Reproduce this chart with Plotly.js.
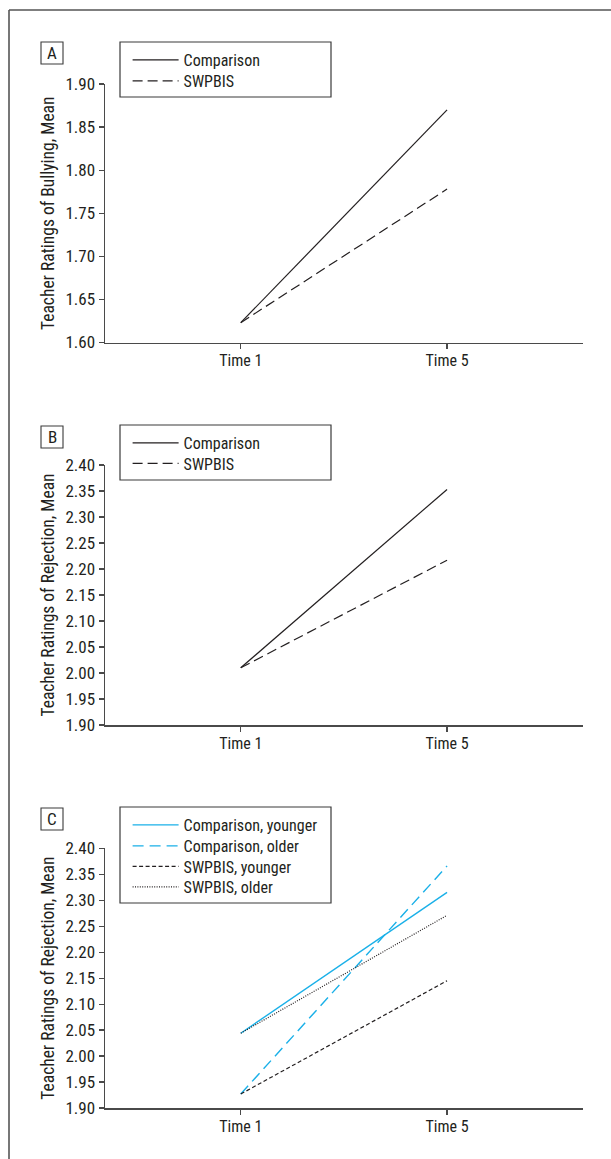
<!DOCTYPE html>
<html>
<head>
<meta charset="utf-8">
<script src="https://cdn.plot.ly/plotly-3.0.1.min.js"></script>
<style>html,body{margin:0;padding:0;background:#fff;}#chart{width:611px;height:1159px;}</style>
</head>
<body>
<div id="chart"></div>
<script>
// ---- data ----
var timepoints = ["Time 1", "Time 5"];
var bullyingComparison = [1.623, 1.870];
var bullyingSWPBIS = [1.623, 1.778];
var rejectionComparison = [2.010, 2.353];
var rejectionSWPBIS = [2.010, 2.217];
var rejCompYounger = [2.044, 2.315];
var rejCompOlder = [1.927, 2.366];
var rejSWPBISYounger = [1.927, 2.145];
var rejSWPBISOlder = [2.044, 2.271];
var panelLabels = ["A", "B", "C"];
var yTitles = ["Teacher Ratings of Bullying, Mean", "Teacher Ratings of Rejection, Mean", "Teacher Ratings of Rejection, Mean"];

// ---- layout helpers ----
var W = 611, H = 1159;
var ML = 105, MR = 28, MT = 84, MB = 51;
var PW = W - ML - MR, PH = H - MT - MB;
function px2x(px) { return (px - ML) / PW; }
function py2y(py) { return (H - MB - py) / PH; }

var FONT = '"Liberation Sans Narrow", "Arial Narrow", "Roboto Condensed", "Liberation Sans", sans-serif';
var INK = '#231f20';
var AXC = '#4a4a4a';
var BLUE = '#1ab0e8';

function trace(y, name, color, dash, xa, ya, leg, width) {
  return {
    type: 'scatter', mode: 'lines', x: timepoints, y: y, name: name,
    xaxis: xa, yaxis: ya, legend: leg,
    line: { color: color, dash: dash, width: width || 1.2 },
    hoverinfo: 'skip'
  };
}

var data = [
  trace(bullyingComparison, 'Comparison', INK, 'solid', 'x', 'y', 'legend'),
  trace(bullyingSWPBIS, 'SWPBIS', INK, '10px,5px', 'x', 'y', 'legend2'),
  trace(rejectionComparison, 'Comparison', INK, 'solid', 'x2', 'y2', 'legend3'),
  trace(rejectionSWPBIS, 'SWPBIS', INK, '10px,5px', 'x2', 'y2', 'legend4'),
  trace(rejCompYounger, 'Comparison, younger', BLUE, 'solid', 'x3', 'y3', 'legend5', 1.4),
  trace(rejCompOlder, 'Comparison, older', BLUE, '11px,6px', 'x3', 'y3', 'legend6', 1.4),
  trace(rejSWPBISYounger, 'SWPBIS, younger', INK, '4px,2.5px', 'x3', 'y3', 'legend7', 1.2),
  trace(rejSWPBISOlder, 'SWPBIS, older', INK, '1px,1.4px', 'x3', 'y3', 'legend8', 1.2)
];

function xax(anchor) {
  return {
    anchor: anchor, domain: [0, 1], type: 'category',
    range: [-0.658, 1.659], showline: true, linecolor: AXC, linewidth: 1.5,
    ticks: 'outside', ticklen: 5, tickwidth: 1.2, tickcolor: AXC,
    showgrid: false, zeroline: false, fixedrange: true,
    ticklabelstandoff: -2,
    tickfont: { family: FONT, size: 16, color: INK }
  };
}
function yax(anchor, dom, range, title) {
  return {
    anchor: anchor, domain: dom, range: range, dtick: 0.05, tick0: 0,
    tickformat: '.2f', showline: true, linecolor: AXC, linewidth: 1.5,
    ticks: 'outside', ticklen: 5, tickwidth: 1.2, tickcolor: AXC,
    showgrid: false, zeroline: false, fixedrange: true,
    tickfont: { family: FONT, size: 17, color: INK },
    title: { text: title, font: { family: FONT, size: 17.5, color: INK }, standoff: 6 }
  };
}

function legendAt(leftPx, rowCenterPx) {
  return {
    xref: 'paper', yref: 'paper',
    x: px2x(leftPx), y: py2y(rowCenterPx - 17), xanchor: 'left', yanchor: 'top',
    bgcolor: 'rgba(0,0,0,0)', borderwidth: 0,
    itemwidth: 46, tracegroupgap: 0, itemclick: false, itemdoubleclick: false,
    font: { family: FONT, size: 16, color: INK }
  };
}

var shapes = [];
// outer frame (top and left edges)
shapes.push({ type: 'line', xref: 'paper', yref: 'paper', x0: px2x(9), x1: px2x(615), y0: py2y(10), y1: py2y(10), line: { color: '#555', width: 1.6 } });
shapes.push({ type: 'line', xref: 'paper', yref: 'paper', x0: px2x(9), x1: px2x(9), y0: py2y(10), y1: py2y(1165), line: { color: '#555', width: 1.6 } });
// legend boxes
[[42, 97], [425, 480], [807, 903]].forEach(function (b) {
  shapes.push({ type: 'rect', xref: 'paper', yref: 'paper', x0: px2x(120), x1: px2x(331), y0: py2y(b[0]), y1: py2y(b[1]), line: { color: '#3a3a3a', width: 1.2 }, fillcolor: 'rgba(0,0,0,0)' });
});
// panel label boxes
var labelCenters = [53, 437, 819];
labelCenters.forEach(function (cy) {
  shapes.push({ type: 'rect', xref: 'paper', yref: 'paper', x0: px2x(41), x1: px2x(63), y0: py2y(cy - 11), y1: py2y(cy + 11), line: { color: '#3a3a3a', width: 1.1 }, fillcolor: 'rgba(0,0,0,0)' });
});
var annotations = panelLabels.map(function (t, i) {
  return { text: t, xref: 'paper', yref: 'paper', x: px2x(52), y: py2y(labelCenters[i]), xanchor: 'center', yanchor: 'middle', showarrow: false, font: { family: FONT, size: 17, color: INK } };
});

// legend rows: one legend per entry so each row sits where the reference has it
var legendRows = [60, 81, 443, 463.5, 825, 846, 866.5, 887];

var layout = {
  width: W, height: H, autosize: false,
  margin: { l: ML, r: MR, t: MT, b: MB, pad: 0, autoexpand: false },
  paper_bgcolor: '#fff', plot_bgcolor: '#fff',
  showlegend: true,
  xaxis: xax('y'), xaxis2: xax('y2'), xaxis3: xax('y3'),
  yaxis: yax('x', [py2y(342.5), py2y(84)], [1.60, 1.90], yTitles[0]),
  yaxis2: yax('x2', [py2y(725), py2y(465)], [1.90, 2.40], yTitles[1]),
  yaxis3: yax('x3', [py2y(1108), py2y(848.3)], [1.90, 2.40], yTitles[2]),
  shapes: shapes,
  annotations: annotations
};
legendRows.forEach(function (r, i) {
  layout[i === 0 ? 'legend' : 'legend' + (i + 1)] = legendAt(127.6, r);
});

Plotly.newPlot('chart', data, layout, { displayModeBar: false, staticPlot: true });
</script>
</body>
</html>
